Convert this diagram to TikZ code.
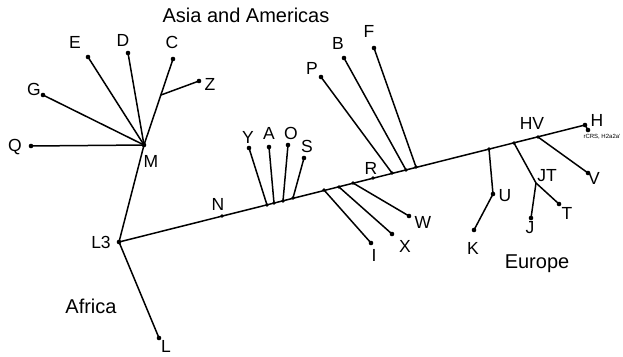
\documentclass[tikz,border=0pt]{standalone}
\usepackage{fontspec}
\setmainfont{Liberation Sans}
\begin{document}
\begin{tikzpicture}[x=1pt,y=-1pt,
  branch/.style={line width=1.5pt},
  dot/.style={circle,fill=black,inner sep=0pt,minimum size=4.6pt},
  jdot/.style={circle,fill=black,inner sep=0pt,minimum size=3.6pt},
  lab/.style={inner sep=0pt,text depth=0pt,font=\fontsize{17.5}{17.5}\selectfont},
  region/.style={inner sep=0pt,text depth=0pt,font=\fontsize{20}{20}\selectfont},
  tiny/.style={inner sep=0pt,font=\fontsize{6}{6}\selectfont}]
\useasboundingbox (0,0) rectangle (623,356);
% main nodes
\node[dot] (L3) at (119,242) {};
\node[dot] (M) at (144,145) {};
\node[dot] (Q) at (31,146) {};
\node[dot] (G) at (43,95) {};
\node[dot] (E) at (88,57) {};
\node[dot] (D) at (128,53) {};
\node[dot] (C) at (173,59) {};
\coordinate (cz) at (161,95);
\node[dot] (Z) at (199,81) {};
\node[dot] (L) at (159,338) {};
% main line junctions
\node[jdot] (N) at (222,216) {};
\node[jdot] (jY) at (267,205) {};
\node[jdot] (jA) at (274,203) {};
\node[jdot] (jO) at (283,201) {};
\node[jdot] (jS) at (293,198) {};
\node[jdot] (jI) at (324,190) {};
\node[jdot] (jX) at (339,187) {};
\node[jdot] (jW) at (353,183) {};
\node[jdot] (R) at (373,178) {};
\node[jdot] (jP) at (392,173) {};
\node[jdot] (jB) at (406,170) {};
\node[jdot] (jF) at (416,167) {};
\node[jdot] (jU) at (489,149) {};
\node[jdot] (jJT) at (514,143) {};
\node[jdot] (jHV) at (538,137) {};
\node[dot] (H) at (585,125) {};
\node[dot] (rcrs) at (588,130) {};
% tips
\node[dot] (Y) at (249,148) {};
\node[dot] (A) at (269,147) {};
\node[dot] (O) at (288,145) {};
\node[dot] (S) at (304,158) {};
\node[dot] (I) at (371,243) {};
\node[dot] (X) at (392,234) {};
\node[dot] (W) at (409,216) {};
\node[dot] (P) at (321,77) {};
\node[dot] (B) at (344,58) {};
\node[dot] (F) at (374,48) {};
\node[dot] (U) at (493,194) {};
\node[dot] (K) at (474,230) {};
\coordinate (cJT) at (536,183);
\node[dot] (T) at (559,204) {};
\node[dot] (J) at (531,218) {};
\node[dot] (V) at (588,173) {};
% edges
\draw[branch] (L3.center) -- (H.center);
\draw[branch] (L3.center) -- (M.center);
\draw[branch] (L3.center) -- (L.center);
\draw[branch] (M.center) -- (Q.center);
\draw[branch] (M.center) -- (G.center);
\draw[branch] (M.center) -- (E.center);
\draw[branch] (M.center) -- (D.center);
\draw[branch] (M.center) -- (C.center);
\draw[branch] (cz) -- (Z.center);
\draw[branch] (jY.center) -- (Y.center);
\draw[branch] (jA.center) -- (A.center);
\draw[branch] (jO.center) -- (O.center);
\draw[branch] (jS.center) -- (S.center);
\draw[branch] (jI.center) -- (I.center);
\draw[branch] (jX.center) -- (X.center);
\draw[branch] (jW.center) -- (W.center);
\draw[branch] (jP.center) -- (P.center);
\draw[branch] (jB.center) -- (B.center);
\draw[branch] (jF.center) -- (F.center);
\draw[branch] (jU.center) -- (U.center) -- (K.center);
\draw[branch] (jJT.center) -- (cJT) -- (T.center);
\draw[branch] (cJT) -- (J.center);
\draw[branch] (jHV.center) -- (V.center);
\draw[branch] (H.center) -- (rcrs.center);
% labels
\node[lab] at (15,145) {Q};
\node[lab] at (34,89) {G};
\node[lab] at (75,42) {E};
\node[lab] at (123,40) {D};
\node[lab] at (172,42) {C};
\node[lab] at (210,84) {Z};
\node[lab] at (151,161) {M};
\node[lab] at (101,242) {L3};
\node[lab] at (166,346) {L};
\node[lab] at (218,204) {N};
\node[lab] at (248,137) {Y};
\node[lab] at (269,133) {A};
\node[lab] at (291,133) {O};
\node[lab] at (307,146) {S};
\node[lab] at (371,168) {R};
\node[lab] at (374,255) {I};
\node[lab] at (405,246) {X};
\node[lab] at (423,222) {W};
\node[lab] at (312,68) {P};
\node[lab] at (338,43) {B};
\node[lab] at (369,31) {F};
\node[lab] at (532,123) {HV};
\node[lab] at (597,120) {H};
\node[lab] at (594,178) {V};
\node[lab] at (547,175) {JT};
\node[lab] at (505,195) {U};
\node[lab] at (567,213) {T};
\node[lab] at (530,227) {J};
\node[lab] at (473,248) {K};
\node[tiny] at (602,137) {rCRS, H2a2a'};
\node[region] at (246,15) {Asia and Americas};
\node[region] at (537,262) {Europe};
\node[region] at (91,306) {Africa};
\end{tikzpicture}
\end{document}
